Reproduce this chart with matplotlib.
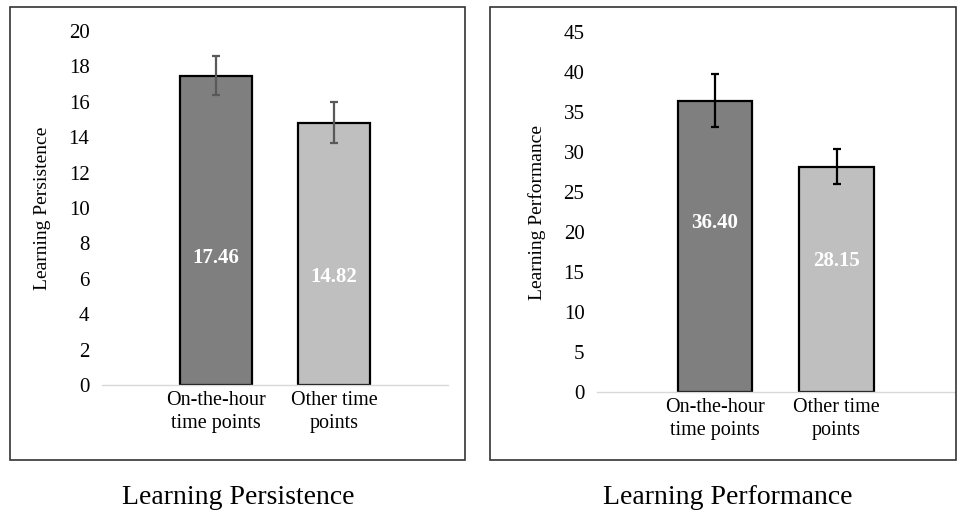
import matplotlib
matplotlib.use("Agg")
import matplotlib.pyplot as plt
from matplotlib.patches import Rectangle

plt.rcParams['font.family'] = ['Liberation Serif', 'DejaVu Serif']

categories = ["On-the-hour\ntime points", "Other time\npoints"]
colors = ["#7f7f7f", "#bfbfbf"]

persistence = [17.46, 14.82]
persistence_err = [1.10, 1.15]

performance = [36.40, 28.15]
performance_err = [3.30, 2.20]

W, H = 957, 515
fig = plt.figure(figsize=(W / 100, H / 100), dpi=100)


def px_box(x0, y0, x1, y1):
    # pixel box (top-left origin) -> figure fraction [left, bottom, width, height]
    return [x0 / W, 1 - y1 / H, (x1 - x0) / W, (y1 - y0) / H]


def draw_panel(box, ax_box, values, errs, ecolor, ymax, ystep, xlim,
               ylabel, title, label_frac, ylabel_x, title_x):
    l, b, w, h = px_box(*box)
    fig.patches.append(Rectangle((l, b), w, h, transform=fig.transFigure,
                                 fill=False, edgecolor="#333333", linewidth=1.2))
    ax = fig.add_axes(px_box(*ax_box))
    x = list(range(len(values)))
    ax.bar(x, values, width=0.61, color=colors, edgecolor="black",
           linewidth=1.6, zorder=2)
    ax.errorbar(x, values, yerr=errs, fmt="none", ecolor=ecolor,
                elinewidth=1.6, capsize=3, capthick=1.6, zorder=3)
    for xi, v in zip(x, values):
        ax.text(xi, v * label_frac, f"{v:.2f}", ha="center", va="center",
                color="white", fontsize=15, fontweight="bold", zorder=4)
    ax.set_ylim(0, ymax)
    ax.set_yticks(range(0, ymax + 1, ystep))
    ax.set_xlim(*xlim)
    ax.set_xticks(x)
    ax.set_xticklabels(categories, fontsize=14.5, linespacing=1.3)
    ax.tick_params(axis="y", labelsize=15, length=0, pad=9)
    ax.tick_params(axis="x", length=0, pad=4)
    for s in ["top", "right", "left"]:
        ax.spines[s].set_visible(False)
    ax.spines["bottom"].set_color("#d9d9d9")
    ax.spines["bottom"].set_linewidth(1.0)
    ax.patch.set_alpha(0)
    fig.text(ylabel_x / W, 1 - (ax_box[1] + ax_box[3]) / 2 / H, ylabel,
             rotation=90, ha="center", va="center", fontsize=14)
    fig.text(title_x / W, 1 - 498 / H, title, ha="center", va="center",
             fontsize=20)


draw_panel((10, 7, 465, 460), (102, 31, 448, 385), persistence, persistence_err,
           "#595959", 20, 2, (-0.966, 1.966), "Learning Persistence",
           "Learning Persistence", 0.41, 43, 238)
draw_panel((490, 7, 956, 460), (597, 32, 955, 392), performance, performance_err,
           "black", 45, 5, (-0.971, 1.975), "Learning Performance",
           "Learning Performance", 0.58, 537, 728)

fig.savefig("out.png", dpi=100)
